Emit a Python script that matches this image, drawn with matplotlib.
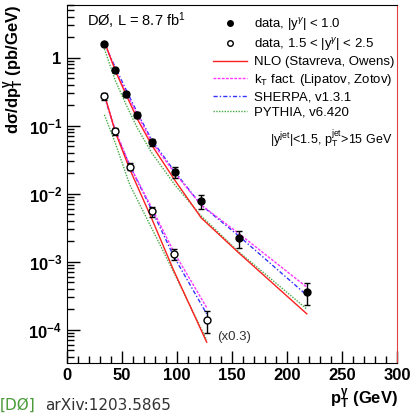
import matplotlib
matplotlib.use("Agg")
import matplotlib.pyplot as plt
import numpy as np
from matplotlib.ticker import MultipleLocator, LogLocator, FixedLocator, FixedFormatter, NullFormatter

plt.rcParams['font.family'] = ['Liberation Sans', 'DejaVu Sans']
plt.rcParams['mathtext.fontset'] = 'custom'
plt.rcParams['mathtext.rm'] = 'Liberation Sans'
plt.rcParams['mathtext.it'] = 'Liberation Sans:italic'
plt.rcParams['mathtext.bf'] = 'Liberation Sans:bold'

# |y_gamma| < 1.0
pt_c = np.array([34, 44, 54, 64, 77, 98, 122, 156, 218])
data_c = np.array([1.6, 0.66, 0.29, 0.145, 0.057, 0.021, 0.0077, 0.0022, 0.00036])
err_c = np.array([0.12, 0.05, 0.025, 0.014, 0.006, 0.004, 0.0018, 0.0006, 0.00013])
nlo_c = np.array([1.75, 0.64, 0.28, 0.125, 0.052, 0.0158, 0.0044, 0.00135, 0.00017])
kt_c = np.array([1.7, 0.66, 0.30, 0.145, 0.058, 0.020, 0.0068, 0.0026, 0.00042])
sherpa_c = np.array([1.6, 0.72, 0.33, 0.155, 0.062, 0.021, 0.0068, 0.0024, 0.00032])
pythia_c = np.array([1.35, 0.46, 0.20, 0.092, 0.040, 0.0135, 0.0047, 0.0014, 0.0002])

# 1.5 < |y_gamma| < 2.5 (x0.3)
pt_f = np.array([34, 44, 57, 77, 97, 127])
data_f = np.array([0.27, 0.084, 0.025, 0.0055, 0.0013, 0.00014])
err_f = np.array([0.03, 0.01, 0.003, 0.0009, 0.00025, 0.00005])
nlo_f = np.array([0.29, 0.08, 0.023, 0.0043, 0.00074, 0.000065])
kt_f = np.array([0.28, 0.085, 0.026, 0.0062, 0.0014, 0.00021])
sherpa_f = np.array([0.27, 0.083, 0.026, 0.0058, 0.0012, 0.00017])
pythia_f = np.array([0.145, 0.055, 0.0136, 0.0031, 0.0007, 0.00007])

fig = plt.figure(figsize=(4.11, 4.15), dpi=100)
ax = fig.add_axes([0.163, 0.125, 0.803, 0.863])

for pt, nlo, kt, sh, py in [(pt_c, nlo_c, kt_c, sherpa_c, pythia_c),
                            (pt_f, nlo_f, kt_f, sherpa_f, pythia_f)]:
    ax.plot(pt, py, color='#44aa44', ls=(0, (1, 1)), lw=1.0)
    ax.plot(pt, sh, color='#3333ff', ls=(0, (3, 1.5, 1, 1.5)), lw=1.0)
    ax.plot(pt, kt, color='#ff33ff', ls=(0, (2, 1)), lw=1.0)
    ax.plot(pt, nlo, color='#ff2020', ls='-', lw=1.0)

ax.errorbar(pt_c, data_c, yerr=err_c, fmt='o', color='k', ms=5, capsize=2, elinewidth=1, zorder=5)
ax.errorbar(pt_f, data_f, yerr=err_f, fmt='o', color='k', mfc='white', ms=5, capsize=2, elinewidth=1, zorder=5)

ax.set_yscale('log')
ax.set_xlim(0, 300)
ax.set_ylim(3.2e-5, 6)

ax.xaxis.set_major_locator(MultipleLocator(50))
ax.xaxis.set_minor_locator(MultipleLocator(10))
ax.yaxis.set_major_locator(FixedLocator([1e-4, 1e-3, 1e-2, 1e-1, 1]))
ax.yaxis.set_major_formatter(FixedFormatter([r'$\mathbf{10^{-4}}$', r'$\mathbf{10^{-3}}$',
                                             r'$\mathbf{10^{-2}}$', r'$\mathbf{10^{-1}}$', r'$\mathbf{1}$']))
ax.yaxis.set_minor_locator(LogLocator(base=10, subs=np.arange(2, 10)))
ax.yaxis.set_minor_formatter(NullFormatter())
ax.tick_params(which='major', direction='in', length=9, width=1, labelsize=12, top=False, right=False)
ax.tick_params(which='minor', direction='in', length=5, width=1, top=False, right=False)
for lab in ax.get_xticklabels():
    lab.set_fontweight('bold')
ax.spines['right'].set_color('#e04040')

ax.set_ylabel(r'$\mathbf{d\sigma/dp_T^{\gamma}}$ (pb/GeV)', fontsize=12, fontweight='bold',
              loc='top', labelpad=2)
fig.text(0.968, 0.028, r'$\mathbf{p_T^{\gamma}}$ (GeV)', fontsize=12, fontweight='bold',
         ha='right', va='baseline')
fig.text(0.0, 0.012, '[DØ]', color='#4a9a3a', fontsize=11, family='DejaVu Sans')
fig.text(0.11, 0.012, 'arXiv:1203.5865', color='#333333', fontsize=11, family='DejaVu Sans')

ax.text(0.06, 0.955, r'DØ, L = 8.7 fb$^{1}$', transform=ax.transAxes, fontsize=10.5, va='center')
ax.text(0.615, 0.625, r'|y$^{\rm jet}$|<1.5, p$_{\rm T}^{\rm jet}$>15 GeV', transform=ax.transAxes,
        fontsize=9, va='center')
ax.text(0.455, 0.065, '(x0.3)', transform=ax.transAxes, fontsize=9.5, color='#333333')

h1 = ax.errorbar([], [], fmt='o', color='k', ms=4)
h2 = ax.errorbar([], [], fmt='o', color='k', mfc='white', ms=4)
h3, = ax.plot([], [], color='#ff2020', lw=1.0)
h4, = ax.plot([], [], color='#ff33ff', ls=(0, (2, 1)), lw=1.0)
h5, = ax.plot([], [], color='#3333ff', ls=(0, (3, 1.5, 1, 1.5)), lw=1.0)
h6, = ax.plot([], [], color='#44aa44', ls=(0, (1, 1)), lw=1.0)
ax.legend([h1, h2, h3, h4, h5, h6],
          [r'data, |y$^{\gamma}$| < 1.0', r'data, 1.5 < |y$^{\gamma}$| < 2.5',
           'NLO (Stavreva, Owens)', r'k$_{\rm T}$ fact. (Lipatov, Zotov)',
           'SHERPA, v1.3.1', 'PYTHIA, v6.420'],
          loc='upper left', bbox_to_anchor=(0.41, 1.0), frameon=False, fontsize=9.5,
          handlelength=2.6, handletextpad=0.5, labelspacing=0.25, borderaxespad=0.4)

fig.savefig('out.png', dpi=100)
